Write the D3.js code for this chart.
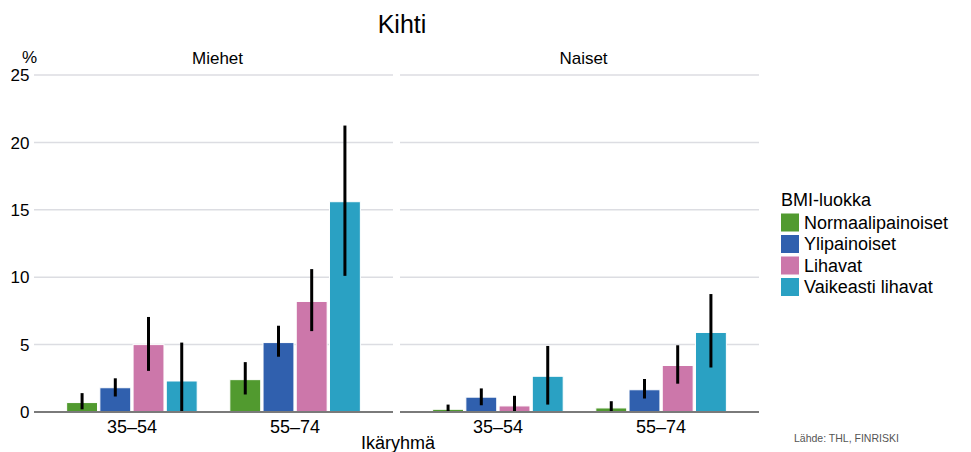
<!DOCTYPE html>
<html>
<head>
<meta charset="utf-8">
<script src="https://cdn.jsdelivr.net/npm/d3@7"></script>
<style>
  body { margin: 0; background: #fff; }
  svg { font-family: "Liberation Sans", Arial, sans-serif; }
</style>
</head>
<body>
<svg id="chart" width="971" height="452"></svg>
<script>
// Panels, age groups and BMI classes
const panels = ["Miehet", "Naiset"];
const ageGroups = ["35–54", "55–74"];
const bmiClasses = ["Normaalipainoiset", "Ylipainoiset", "Lihavat", "Vaikeasti lihavat"];
const colors = ["#519a2f", "#3060ae", "#cc77aa", "#2aa1c3"];
const yTicks = [0, 5, 10, 15, 20, 25];

// Prevalence (%) per panel -> age group -> BMI class
const miehetValues = [[0.7, 1.8, 5.0, 2.3], [2.4, 5.15, 8.2, 15.6]];
const miehetLower  = [[0.2, 1.15, 3.05, 0.0], [1.3, 4.1, 6.0, 10.1]];
const miehetUpper  = [[1.4, 2.5, 7.05, 5.15], [3.7, 6.4, 10.6, 21.25]];
const naisetValues = [[0.2, 1.1, 0.45, 2.65], [0.3, 1.65, 3.45, 5.9]];
const naisetLower  = [[0.0, 0.5, 0.0, 0.55], [0.0, 1.0, 2.1, 3.3]];
const naisetUpper  = [[0.55, 1.75, 1.2, 4.9], [0.8, 2.45, 4.95, 8.75]];

const panelData = [
  { values: miehetValues, lower: miehetLower, upper: miehetUpper },
  { values: naisetValues, lower: naisetLower, upper: naisetUpper }
];

const svg = d3.select("#chart");

const y = d3.scaleLinear().domain([0, 25]).range([412, 75]);
const panelX = d3.scaleOrdinal().domain(panels).range([34, 400]);
const panelW = 359;

const xOuter = d3.scaleBand().domain(ageGroups).range([0, panelW]).padding(0.2);
const xInner = d3.scaleBand().domain(bmiClasses).range([0, xOuter.bandwidth()]).paddingInner(0.07);
const color = d3.scaleOrdinal().domain(bmiClasses).range(colors);

// Title
svg.append("text")
  .attr("x", 402).attr("y", 33)
  .attr("text-anchor", "middle")
  .attr("font-size", 25).attr("fill", "#000")
  .text("Kihti");

// "%" unit label
svg.append("text")
  .attr("x", 22).attr("y", 63)
  .attr("font-size", 17).attr("fill", "#000")
  .text("%");

// Y tick labels
svg.append("g").selectAll("text").data(yTicks).join("text")
  .attr("x", 29.5).attr("y", d => y(d))
  .attr("dy", "0.36em")
  .attr("text-anchor", "end")
  .attr("font-size", 17).attr("fill", "#000")
  .text(d => d);

panels.forEach((p, pi) => {
  const g = svg.append("g").attr("transform", `translate(${panelX(p)},0)`);
  const d = panelData[pi];

  // Panel title
  g.append("text")
    .attr("x", panelW / 2 + 4).attr("y", 64)
    .attr("text-anchor", "middle")
    .attr("font-size", 17).attr("fill", "#000")
    .text(p);

  // Gridlines
  g.append("g").selectAll("line").data(yTicks.filter(t => t > 0)).join("line")
    .attr("x1", 0).attr("x2", panelW)
    .attr("y1", t => y(t)).attr("y2", t => y(t))
    .attr("stroke", "#dcdde2").attr("stroke-width", 1.5);

  ageGroups.forEach((a, ai) => {
    const gg = g.append("g").attr("transform", `translate(${xOuter(a)},0)`);
    const rows = bmiClasses.map((c, ci) => ({
      c, v: d.values[ai][ci], lo: d.lower[ai][ci], hi: d.upper[ai][ci]
    }));

    gg.selectAll("rect").data(rows).join("rect")
      .attr("x", r => xInner(r.c))
      .attr("width", xInner.bandwidth())
      .attr("y", r => y(r.v))
      .attr("height", r => y(0) - y(r.v))
      .attr("fill", r => color(r.c))
      .attr("stroke", "#fff").attr("stroke-width", 1);

    gg.selectAll("line.err").data(rows).join("line")
      .attr("class", "err")
      .attr("x1", r => xInner(r.c) + xInner.bandwidth() / 2)
      .attr("x2", r => xInner(r.c) + xInner.bandwidth() / 2)
      .attr("y1", r => y(r.lo))
      .attr("y2", r => y(r.hi))
      .attr("stroke", "#000").attr("stroke-width", 3);
  });

  // Baseline
  g.append("line")
    .attr("x1", 0).attr("x2", panelW)
    .attr("y1", y(0)).attr("y2", y(0))
    .attr("stroke", "#7a7a7a").attr("stroke-width", 2);

  // X tick labels
  g.append("g").selectAll("text").data(ageGroups).join("text")
    .attr("x", a => xOuter(a) + xOuter.bandwidth() / 2)
    .attr("y", 433)
    .attr("text-anchor", "middle")
    .attr("font-size", 18).attr("fill", "#000")
    .text(a => a);
});

// X axis title
svg.append("text")
  .attr("x", 398).attr("y", 449)
  .attr("text-anchor", "middle")
  .attr("font-size", 18).attr("fill", "#000")
  .text("Ikäryhmä");

// Legend
const legend = svg.append("g").attr("transform", "translate(781,0)");
legend.append("text")
  .attr("x", 0).attr("y", 206)
  .attr("font-size", 18).attr("fill", "#000")
  .text("BMI-luokka");
const items = legend.selectAll("g.item").data(bmiClasses).join("g")
  .attr("class", "item")
  .attr("transform", (c, i) => `translate(0,${213.5 + i * 21.5})`);
items.append("rect")
  .attr("width", 18).attr("height", 18)
  .attr("fill", c => color(c));
items.append("text")
  .attr("x", 23).attr("y", 9).attr("dy", "0.36em")
  .attr("font-size", 18).attr("fill", "#000")
  .text(c => c);

// Source
svg.append("text")
  .attr("x", 794).attr("y", 442)
  .attr("font-size", 10.5).attr("fill", "#555")
  .text("Lähde: THL, FINRISKI");
</script>
</body>
</html>
